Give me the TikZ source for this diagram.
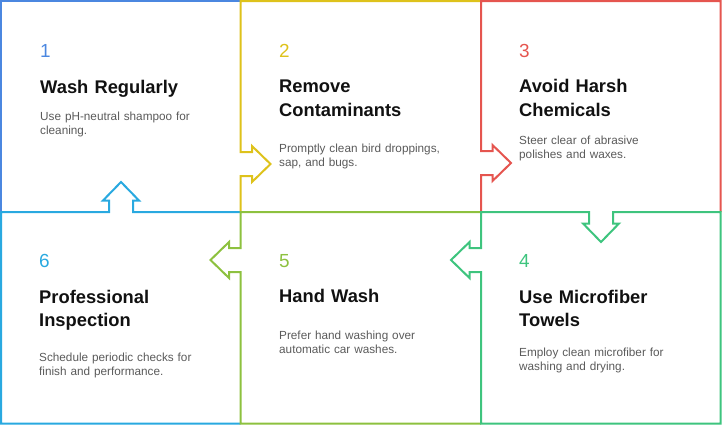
\documentclass[tikz,border=0pt]{standalone}
\usepackage{fontspec}
\setmainfont{Liberation Sans}
\usetikzlibrary{positioning}
\definecolor{tile1}{HTML}{4B87E0}
\definecolor{tile2}{HTML}{DEC21B}
\definecolor{tile3}{HTML}{E5554F}
\definecolor{tile4}{HTML}{3EC47E}
\definecolor{tile5}{HTML}{8DC13F}
\definecolor{tile6}{HTML}{29A9E0}
\definecolor{headtext}{HTML}{111111}
\definecolor{bodytext}{HTML}{5A5A5A}
\tikzstyle{tilenum} = [inner sep=0pt, anchor=base west, font=\fontsize{19}{22}\selectfont]
\tikzstyle{tilehead} = [inner sep=0pt, text width=200bp, align=left, text=headtext, font=\fontsize{18.4}{24}\selectfont\bfseries]
\tikzstyle{tiletext} = [inner sep=0pt, text width=200bp, align=left, text=bodytext, font=\fontsize{11.8}{14.5}\selectfont]
\tikzstyle{border} = [line width=2bp]
% arrow notch in a vertical edge, walked downward (#3 = 1 right, -1 left)
\tikzset{vbump/.style n args={3}{insert path={-- ({#1},{#2-12}) -- ({#1+11.5*(#3)},{#2-12}) -- ({#1+11.5*(#3)},{#2-18}) -- ({#1+30*(#3)},{#2}) -- ({#1+11.5*(#3)},{#2+18}) -- ({#1+11.5*(#3)},{#2+12}) -- ({#1},{#2+12})}}}
% arrow notch in a horizontal edge, walked leftward (#3 = 1 down, -1 up)
\tikzset{hbump/.style n args={3}{insert path={-- ({#1+12},{#2}) -- ({#1+12},{#2+11.5*(#3)}) -- ({#1+18},{#2+11.5*(#3)}) -- ({#1},{#2+30*(#3)}) -- ({#1-18},{#2+11.5*(#3)}) -- ({#1-12},{#2+11.5*(#3)}) -- ({#1-12},{#2})}}}
\begin{document}
\begin{tikzpicture}[x=1bp, y=-1bp]
\useasboundingbox (0,0) rectangle (722,425);

% borders
\draw [border, draw=tile1] (1,212) -- (1,1) -- (240.5,1);
\draw [border, draw=tile2] (481,1) -- (240.5,1) [vbump={240.5}{164}{1}] -- (240.5,212);
\draw [border, draw=tile3] (720.5,212) -- (720.5,1) -- (481,1) [vbump={481}{163}{1}] -- (481,212);
\draw [border, draw=tile6] (240.5,212) [hbump={121}{212}{-1}] -- (1,212) -- (1,423.5) -- (240.5,423.5);
\draw [border, draw=tile5] (481,212) -- (240.5,212) [vbump={240.5}{260}{-1}] -- (240.5,423.5) -- (481,423.5);
\draw [border, draw=tile4] (720.5,212) [hbump={601}{212}{1}] -- (481,212) [vbump={481}{260}{-1}] -- (481,423.5) -- (720.5,423.5) -- cycle;

\node (n1) [tilenum, text=tile1] at (40,57) {1};
\node (h1) [tilehead, below=36bp of n1.base west, anchor=base west] {Wash Regularly};
\node (d1) [tiletext, below=27bp of h1.base west, anchor=base west] {Use pH-neutral shampoo for\\cleaning.};

\node (n2) [tilenum, text=tile2] at (279,57) {2};
\node (h2) [tilehead, below=35.5bp of n2.base west, anchor=base west] {Remove\\Contaminants};
\node (d2) [tiletext, below=59.5bp of h2.base west, anchor=base west] {Promptly clean bird droppings,\\sap, and bugs.};

\node (n3) [tilenum, text=tile3] at (519,57) {3};
\node (h3) [tilehead, below=35.5bp of n3.base west, anchor=base west] {Avoid Harsh\\Chemicals};
\node (d3) [tiletext, below=52bp of h3.base west, anchor=base west] {Steer clear of abrasive\\polishes and waxes.};

\node (n4) [tilenum, text=tile4] at (519,267) {4};
\node (h4) [tilehead, below=36bp of n4.base west, anchor=base west] {Use Microfiber\\Towels};
\node (d4) [tiletext, below=53.5bp of h4.base west, anchor=base west] {Employ clean microfiber for\\washing and drying.};

\node (n5) [tilenum, text=tile5] at (279,267) {5};
\node (h5) [tilehead, below=35.5bp of n5.base west, anchor=base west] {Hand Wash};
\node (d5) [tiletext, below=37bp of h5.base west, anchor=base west] {Prefer hand washing over\\automatic car washes.};

\node (n6) [tilenum, text=tile6] at (39,267) {6};
\node (h6) [tilehead, below=36bp of n6.base west, anchor=base west] {Professional\\Inspection};
\node (d6) [tiletext, below=58bp of h6.base west, anchor=base west] {Schedule periodic checks for\\finish and performance.};

\end{tikzpicture}
\end{document}
